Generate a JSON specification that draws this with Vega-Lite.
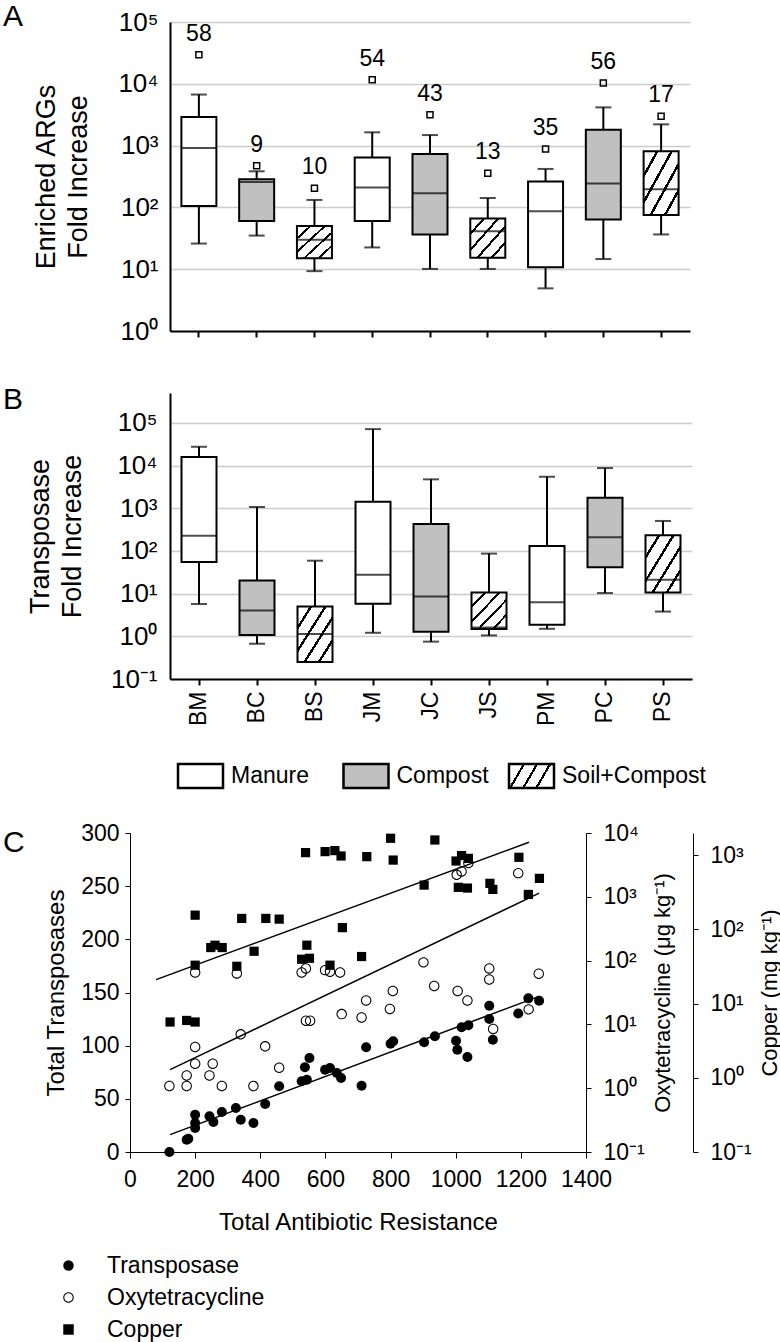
{
  "$schema": "https://vega.github.io/schema/vega-lite/v6.json",
  "padding": {"top": 2, "left": 3, "right": 0, "bottom": 0},
  "autosize": {"type": "pad"},
  "background": "white",
  "datasets": {
    "boxA": [
      {"cat": "BM", "type": "Manure", "lo": 26, "q1": 105, "med": 915, "q3": 2900, "hi": 6700, "out": 29500, "n": 58},
      {"cat": "BC", "type": "Compost", "lo": 35, "q1": 60, "med": 258, "q3": 286, "hi": 384, "out": 470, "n": 9},
      {"cat": "BS", "type": "Soil+Compost", "lo": 9.3, "q1": 15, "med": 30, "q3": 50, "hi": 132, "out": 204, "n": 10},
      {"cat": "JM", "type": "Manure", "lo": 22.5, "q1": 60, "med": 210, "q3": 640, "hi": 1640, "out": 11650, "n": 54},
      {"cat": "JC", "type": "Compost", "lo": 10.1, "q1": 36.5, "med": 170, "q3": 730, "hi": 1480, "out": 3165, "n": 43},
      {"cat": "JS", "type": "Soil+Compost", "lo": 10.1, "q1": 15.3, "med": 41, "q3": 66, "hi": 142, "out": 357, "n": 13},
      {"cat": "PM", "type": "Manure", "lo": 4.9, "q1": 10.8, "med": 87, "q3": 262, "hi": 419, "out": 881, "n": 35},
      {"cat": "PC", "type": "Compost", "lo": 14.6, "q1": 64, "med": 243, "q3": 1813, "hi": 4156, "out": 10260, "n": 56},
      {"cat": "PS", "type": "Soil+Compost", "lo": 36.5, "q1": 75, "med": 197, "q3": 809, "hi": 2208, "out": 2973, "n": 17}
    ],
    "boxB": [
      {"cat": "BM", "type": "Manure", "lo": 5.7, "q1": 55, "med": 228, "q3": 15800, "hi": 27500},
      {"cat": "BC", "type": "Compost", "lo": 0.67, "q1": 1.07, "med": 4.0, "q3": 20.2, "hi": 1070},
      {"cat": "BS", "type": "Soil+Compost", "lo": 0.25, "q1": 0.25, "med": 1.13, "q3": 5.0, "hi": 59},
      {"cat": "JM", "type": "Manure", "lo": 1.21, "q1": 5.8, "med": 27.5, "q3": 1420, "hi": 71300},
      {"cat": "JC", "type": "Compost", "lo": 0.75, "q1": 1.28, "med": 8.6, "q3": 428, "hi": 4750},
      {"cat": "JS", "type": "Soil+Compost", "lo": 1.05, "q1": 1.48, "med": 1.6, "q3": 10.6, "hi": 86.5},
      {"cat": "PM", "type": "Manure", "lo": 1.5, "q1": 1.86, "med": 6.3, "q3": 131, "hi": 5460},
      {"cat": "PC", "type": "Compost", "lo": 10.3, "q1": 41.6, "med": 209, "q3": 1766, "hi": 8730},
      {"cat": "PS", "type": "Soil+Compost", "lo": 3.8, "q1": 10.6, "med": 21, "q3": 233, "hi": 503}
    ],
    "types": [{"type": "Manure"}, {"type": "Compost"}, {"type": "Soil+Compost"}],
    "trans": [
      {"series": "Transposase", "x": 121, "y": 0}, {"series": "Transposase", "x": 174, "y": 11.6}, {"series": "Transposase", "x": 179, "y": 12.5},
      {"series": "Transposase", "x": 200, "y": 35}, {"series": "Transposase", "x": 200, "y": 27.3}, {"series": "Transposase", "x": 200, "y": 22.6},
      {"series": "Transposase", "x": 244, "y": 33.6}, {"series": "Transposase", "x": 256, "y": 28.2}, {"series": "Transposase", "x": 282, "y": 37.6},
      {"series": "Transposase", "x": 325, "y": 41.4}, {"series": "Transposase", "x": 340, "y": 30.4}, {"series": "Transposase", "x": 379, "y": 27.3},
      {"series": "Transposase", "x": 415, "y": 45.1}, {"series": "Transposase", "x": 458, "y": 61.8}, {"series": "Transposase", "x": 527, "y": 66.5},
      {"series": "Transposase", "x": 543, "y": 68}, {"series": "Transposase", "x": 537, "y": 79.7}, {"series": "Transposase", "x": 551, "y": 88.4},
      {"series": "Transposase", "x": 599, "y": 77.4}, {"series": "Transposase", "x": 614, "y": 79}, {"series": "Transposase", "x": 635, "y": 74.3},
      {"series": "Transposase", "x": 648, "y": 69.6}, {"series": "Transposase", "x": 711, "y": 62.3}, {"series": "Transposase", "x": 725, "y": 98.5},
      {"series": "Transposase", "x": 800, "y": 101.8}, {"series": "Transposase", "x": 808, "y": 104.1}, {"series": "Transposase", "x": 903, "y": 103.2},
      {"series": "Transposase", "x": 936, "y": 108.8}, {"series": "Transposase", "x": 1001, "y": 104.7}, {"series": "Transposase", "x": 1005, "y": 96.2},
      {"series": "Transposase", "x": 1036, "y": 89.3}, {"series": "Transposase", "x": 1018, "y": 117.3}, {"series": "Transposase", "x": 1039, "y": 119.2},
      {"series": "Transposase", "x": 1103, "y": 137.6}, {"series": "Transposase", "x": 1103, "y": 125.1}, {"series": "Transposase", "x": 1114, "y": 105.6},
      {"series": "Transposase", "x": 1192, "y": 130.2}, {"series": "Transposase", "x": 1223, "y": 144.5}, {"series": "Transposase", "x": 1256, "y": 142.3}
    ],
    "oxy": [
      {"series": "Oxytetracycline", "x": 121, "y": 1.08}, {"series": "Oxytetracycline", "x": 174, "y": 1.08}, {"series": "Oxytetracycline", "x": 174, "y": 1.58},
      {"series": "Oxytetracycline", "x": 200, "y": 2.42}, {"series": "Oxytetracycline", "x": 200, "y": 4.43}, {"series": "Oxytetracycline", "x": 254, "y": 2.42},
      {"series": "Oxytetracycline", "x": 244, "y": 1.58}, {"series": "Oxytetracycline", "x": 282, "y": 1.08}, {"series": "Oxytetracycline", "x": 340, "y": 6.98},
      {"series": "Oxytetracycline", "x": 379, "y": 1.08}, {"series": "Oxytetracycline", "x": 415, "y": 4.53}, {"series": "Oxytetracycline", "x": 458, "y": 2.09},
      {"series": "Oxytetracycline", "x": 540, "y": 11.4}, {"series": "Oxytetracycline", "x": 553, "y": 11.4}, {"series": "Oxytetracycline", "x": 650, "y": 14.5},
      {"series": "Oxytetracycline", "x": 711, "y": 12.8}, {"series": "Oxytetracycline", "x": 725, "y": 23.7}, {"series": "Oxytetracycline", "x": 798, "y": 17.4},
      {"series": "Oxytetracycline", "x": 807, "y": 33.4}, {"series": "Oxytetracycline", "x": 901, "y": 93.8}, {"series": "Oxytetracycline", "x": 934, "y": 40},
      {"series": "Oxytetracycline", "x": 1006, "y": 33.4}, {"series": "Oxytetracycline", "x": 1036, "y": 23.7}, {"series": "Oxytetracycline", "x": 1103, "y": 75.3},
      {"series": "Oxytetracycline", "x": 1103, "y": 50.6}, {"series": "Oxytetracycline", "x": 1115, "y": 8.5}, {"series": "Oxytetracycline", "x": 1224, "y": 17.2},
      {"series": "Oxytetracycline", "x": 1255, "y": 62.2}, {"series": "Oxytetracycline", "x": 200, "y": 65.2}, {"series": "Oxytetracycline", "x": 328, "y": 63},
      {"series": "Oxytetracycline", "x": 527, "y": 65.2}, {"series": "Oxytetracycline", "x": 540, "y": 75.3}, {"series": "Oxytetracycline", "x": 599, "y": 70.9},
      {"series": "Oxytetracycline", "x": 614, "y": 66.9}, {"series": "Oxytetracycline", "x": 645, "y": 65.2}, {"series": "Oxytetracycline", "x": 1003, "y": 2208},
      {"series": "Oxytetracycline", "x": 1018, "y": 2500}, {"series": "Oxytetracycline", "x": 1039, "y": 3373}, {"series": "Oxytetracycline", "x": 1192, "y": 2350}
    ],
    "copper": [
      {"series": "Copper", "x": 123, "y": 5.66}, {"series": "Copper", "x": 174, "y": 5.94}, {"series": "Copper", "x": 200, "y": 5.66},
      {"series": "Copper", "x": 200, "y": 33}, {"series": "Copper", "x": 200, "y": 156}, {"series": "Copper", "x": 248, "y": 57.1},
      {"series": "Copper", "x": 261, "y": 61.4}, {"series": "Copper", "x": 283, "y": 57.1}, {"series": "Copper", "x": 328, "y": 31.9},
      {"series": "Copper", "x": 343, "y": 141}, {"series": "Copper", "x": 381, "y": 50.9}, {"series": "Copper", "x": 417, "y": 141},
      {"series": "Copper", "x": 458, "y": 138}, {"series": "Copper", "x": 527, "y": 39.7}, {"series": "Copper", "x": 551, "y": 40.9},
      {"series": "Copper", "x": 543, "y": 61.4}, {"series": "Copper", "x": 539, "y": 1087}, {"series": "Copper", "x": 599, "y": 1122},
      {"series": "Copper", "x": 629, "y": 1158}, {"series": "Copper", "x": 648, "y": 980}, {"series": "Copper", "x": 652, "y": 106},
      {"series": "Copper", "x": 614, "y": 33}, {"series": "Copper", "x": 711, "y": 43.2}, {"series": "Copper", "x": 727, "y": 960},
      {"series": "Copper", "x": 800, "y": 1698}, {"series": "Copper", "x": 808, "y": 863}, {"series": "Copper", "x": 936, "y": 1610},
      {"series": "Copper", "x": 903, "y": 397}, {"series": "Copper", "x": 1001, "y": 838}, {"series": "Copper", "x": 1018, "y": 991},
      {"series": "Copper", "x": 1039, "y": 910}, {"series": "Copper", "x": 1008, "y": 370}, {"series": "Copper", "x": 1036, "y": 362},
      {"series": "Copper", "x": 1105, "y": 419}, {"series": "Copper", "x": 1114, "y": 347}, {"series": "Copper", "x": 1194, "y": 940},
      {"series": "Copper", "x": 1257, "y": 489}, {"series": "Copper", "x": 1223, "y": 297}
    ],
    "fitT": [{"x": 123, "y": 16.3}, {"x": 1256, "y": 146.4}],
    "fitO": [{"x": 123, "y": 1.95}, {"x": 1256, "y": 1140}],
    "fitC": [{"x": 80, "y": 21.1}, {"x": 1225, "y": 1500}]
  },
  "vconcat": [
    {
      "vconcat": [
        {
          "width": 520,
          "height": 309,
          "title": {"text": "A", "anchor": "start", "frame": "group", "dx": -167, "dy": 23, "fontSize": 30, "fontWeight": "normal", "offset": 0},
          "data": {"name": "boxA"},
          "encoding": {
            "x": {"field": "cat", "type": "nominal", "scale": {"domain": ["BM", "BC", "BS", "JM", "JC", "JS", "PM", "PC", "PS"], "paddingInner": 0, "paddingOuter": 0},
                  "axis": {"labels": false, "title": null, "tickSize": 6, "tickWidth": 2, "domainWidth": 2, "grid": false}}
          },
          "layer": [
            {"mark": {"type": "rule", "stroke": "black", "strokeWidth": 2},
             "encoding": {"y": {"field": "lo", "type": "quantitative", "scale": {"type": "log", "domain": [1, 100000], "nice": false},
                                "axis": {"title": ["Enriched ARGs", "Fold Increase"], "values": [1, 10, 100, 1000, 10000, 100000],
                                         "labelExpr": "datum.value < 0.5 ? '10⁻¹' : datum.value < 5 ? '10⁰' : datum.value < 50 ? '10¹' : datum.value < 500 ? '10²' : datum.value < 5000 ? '10³' : datum.value < 50000 ? '10⁴' : '10⁵'",
                                         "labelFontSize": 26, "titleFontSize": 27, "titleLineHeight": 32, "titlePadding": 25, "labelPadding": 12, "tickSize": 0, "tickWidth": 2, "domainWidth": 2,
                                         "grid": true, "gridColor": "#cccccc", "gridWidth": 1.5, "labelOverlap": false, "labelFlush": false}},
                          "y2": {"field": "hi"}}},
            {"transform": [{"filter": "datum.type === 'Manure'"}],
             "mark": {"type": "bar", "size": 35, "fill": "white", "stroke": "black", "strokeWidth": 2},
             "encoding": {"y": {"field": "q1", "type": "quantitative"}, "y2": {"field": "q3"}}},
            {"transform": [{"filter": "datum.type === 'Compost'"}],
             "mark": {"type": "bar", "size": 35, "fill": "#c0c0c0", "stroke": "black", "strokeWidth": 2},
             "encoding": {"y": {"field": "q1", "type": "quantitative"}, "y2": {"field": "q3"}}},
            {"transform": [{"filter": "datum.type === 'Soil+Compost'"}],
             "mark": {"type": "bar", "size": 35, "stroke": "black", "strokeWidth": 2,
                      "fill": {"gradient": "linear", "x1": 0, "y1": 0, "x2": 1, "y2": 1, "stops": [
                        {"offset": 0, "color": "white"}, {"offset": 0.175, "color": "white"}, {"offset": 0.175, "color": "black"}, {"offset": 0.215, "color": "black"}, {"offset": 0.215, "color": "white"},
                        {"offset": 0.38, "color": "white"}, {"offset": 0.38, "color": "black"}, {"offset": 0.42, "color": "black"}, {"offset": 0.42, "color": "white"},
                        {"offset": 0.58, "color": "white"}, {"offset": 0.58, "color": "black"}, {"offset": 0.62, "color": "black"}, {"offset": 0.62, "color": "white"},
                        {"offset": 0.785, "color": "white"}, {"offset": 0.785, "color": "black"}, {"offset": 0.825, "color": "black"}, {"offset": 0.825, "color": "white"},
                        {"offset": 1, "color": "white"}]}},
             "encoding": {"y": {"field": "q1", "type": "quantitative"}, "y2": {"field": "q3"}}},
            {"mark": {"type": "tick", "size": 35, "thickness": 2, "color": "black"},
             "encoding": {"y": {"field": "med", "type": "quantitative"}}},
            {"mark": {"type": "tick", "size": 16, "thickness": 2, "color": "black"},
             "encoding": {"y": {"field": "lo", "type": "quantitative"}}},
            {"mark": {"type": "tick", "size": 16, "thickness": 2, "color": "black"},
             "encoding": {"y": {"field": "hi", "type": "quantitative"}}},
            {"mark": {"type": "point", "shape": "square", "size": 36, "filled": false, "stroke": "black", "strokeWidth": 1.5, "opacity": 1},
             "encoding": {"y": {"field": "out", "type": "quantitative"}}},
            {"mark": {"type": "text", "fontSize": 23, "dy": -21, "color": "black", "baseline": "middle"},
             "encoding": {"y": {"field": "out", "type": "quantitative"}, "text": {"field": "n", "type": "quantitative"}}}
          ]
        },
        {
          "width": 522,
          "height": 286,
          "title": {"text": "B", "anchor": "start", "frame": "group", "dx": -167, "dy": 22, "fontSize": 30, "fontWeight": "normal", "offset": 0},
          "data": {"name": "boxB"},
          "encoding": {
            "x": {"field": "cat", "type": "nominal", "scale": {"domain": ["BM", "BC", "BS", "JM", "JC", "JS", "PM", "PC", "PS"], "paddingInner": 0, "paddingOuter": 0},
                  "axis": {"title": null, "labelAngle": -90, "labelFontSize": 23, "labelPadding": 6, "tickSize": 6, "tickWidth": 2, "domainWidth": 2, "grid": false}}
          },
          "layer": [
            {"mark": {"type": "rule", "stroke": "black", "strokeWidth": 2},
             "encoding": {"y": {"field": "lo", "type": "quantitative", "scale": {"type": "log", "domain": [0.1, 500000], "nice": false},
                                "axis": {"title": ["Transposase", "Fold Increase"], "values": [0.1, 1, 10, 100, 1000, 10000, 100000],
                                         "labelExpr": "datum.value < 0.5 ? '10⁻¹' : datum.value < 5 ? '10⁰' : datum.value < 50 ? '10¹' : datum.value < 500 ? '10²' : datum.value < 5000 ? '10³' : datum.value < 50000 ? '10⁴' : '10⁵'",
                                         "labelFontSize": 26, "titleFontSize": 27, "titleLineHeight": 32, "titlePadding": 24, "labelPadding": 13, "tickSize": 0, "tickWidth": 2, "domainWidth": 2,
                                         "grid": true, "gridColor": "#cccccc", "gridWidth": 1.5, "labelOverlap": false, "labelFlush": false}},
                          "y2": {"field": "hi"}}},
            {"transform": [{"filter": "datum.type === 'Manure'"}],
             "mark": {"type": "bar", "size": 35, "fill": "white", "stroke": "black", "strokeWidth": 2},
             "encoding": {"y": {"field": "q1", "type": "quantitative"}, "y2": {"field": "q3"}}},
            {"transform": [{"filter": "datum.type === 'Compost'"}],
             "mark": {"type": "bar", "size": 35, "fill": "#c0c0c0", "stroke": "black", "strokeWidth": 2},
             "encoding": {"y": {"field": "q1", "type": "quantitative"}, "y2": {"field": "q3"}}},
            {"transform": [{"filter": "datum.type === 'Soil+Compost'"}],
             "mark": {"type": "bar", "size": 35, "stroke": "black", "strokeWidth": 2,
                      "fill": {"gradient": "linear", "x1": 0, "y1": 0, "x2": 1, "y2": 1, "stops": [
                        {"offset": 0, "color": "white"}, {"offset": 0.175, "color": "white"}, {"offset": 0.175, "color": "black"}, {"offset": 0.215, "color": "black"}, {"offset": 0.215, "color": "white"},
                        {"offset": 0.38, "color": "white"}, {"offset": 0.38, "color": "black"}, {"offset": 0.42, "color": "black"}, {"offset": 0.42, "color": "white"},
                        {"offset": 0.58, "color": "white"}, {"offset": 0.58, "color": "black"}, {"offset": 0.62, "color": "black"}, {"offset": 0.62, "color": "white"},
                        {"offset": 0.785, "color": "white"}, {"offset": 0.785, "color": "black"}, {"offset": 0.825, "color": "black"}, {"offset": 0.825, "color": "white"},
                        {"offset": 1, "color": "white"}]}},
             "encoding": {"y": {"field": "q1", "type": "quantitative"}, "y2": {"field": "q3"}}},
            {"mark": {"type": "tick", "size": 35, "thickness": 2, "color": "black"},
             "encoding": {"y": {"field": "med", "type": "quantitative"}}},
            {"mark": {"type": "tick", "size": 16, "thickness": 2, "color": "black"},
             "encoding": {"y": {"field": "lo", "type": "quantitative"}}},
            {"mark": {"type": "tick", "size": 16, "thickness": 2, "color": "black"},
             "encoding": {"y": {"field": "hi", "type": "quantitative"}}}
          ]
        }
      ],
      "spacing": 41
    },
    {
      "vconcat": [
        {
          "width": 331,
          "height": 24,
          "data": {"name": "types"},
          "encoding": {
            "x": {"field": "type", "type": "nominal", "scale": {"type": "point", "domain": ["Manure", "Compost", "Soil+Compost"], "padding": 0}, "axis": null}
          },
          "layer": [
            {"transform": [{"filter": "datum.type === 'Manure'"}],
             "mark": {"type": "bar", "width": 45, "xOffset": 30.5, "fill": "white", "stroke": "black", "strokeWidth": 2.5}},
            {"transform": [{"filter": "datum.type === 'Compost'"}],
             "mark": {"type": "bar", "width": 45, "xOffset": 30.5, "fill": "#c0c0c0", "stroke": "black", "strokeWidth": 2.5}},
            {"transform": [{"filter": "datum.type === 'Soil+Compost'"}],
             "mark": {"type": "bar", "width": 45, "xOffset": 30.5, "stroke": "black", "strokeWidth": 2.5,
                      "fill": {"gradient": "linear", "x1": 0, "y1": 0, "x2": 1, "y2": 0.31, "stops": [
                        {"offset": 0, "color": "white"}, {"offset": 0.28, "color": "white"}, {"offset": 0.28, "color": "black"}, {"offset": 0.33, "color": "black"}, {"offset": 0.33, "color": "white"},
                        {"offset": 0.545, "color": "white"}, {"offset": 0.545, "color": "black"}, {"offset": 0.595, "color": "black"}, {"offset": 0.595, "color": "white"},
                        {"offset": 0.81, "color": "white"}, {"offset": 0.81, "color": "black"}, {"offset": 0.86, "color": "black"}, {"offset": 0.86, "color": "white"},
                        {"offset": 1, "color": "white"}]}}},
            {"mark": {"type": "text", "align": "left", "baseline": "middle", "dx": 61, "fontSize": 23, "color": "black"},
             "encoding": {"text": {"field": "type", "type": "nominal"}}}
          ]
        },
        {
          "width": 416,
          "height": 319,
          "title": {"text": "C", "anchor": "start", "frame": "group", "dx": -167, "dy": 36, "fontSize": 30, "fontWeight": "normal", "offset": 0},
          "encoding": {
            "x": {"field": "x", "type": "quantitative", "scale": {"domain": [0, 1400], "range": [-40, 416], "nice": false},
                  "axis": {"values": [0, 200, 400, 600, 800, 1000, 1200, 1400], "format": "d", "title": "Total Antibiotic Resistance", "titleFontSize": 24, "labelFontSize": 23,
                           "tickSize": 6, "tickWidth": 1, "domainWidth": 1, "labelPadding": 10, "titlePadding": 19, "grid": false, "labelFlush": false, "labelOverlap": false}}
          },
          "layer": [
            {
              "layer": [
                {"data": {"name": "fitT"}, "mark": {"type": "line", "color": "black", "strokeWidth": 1.5},
                 "encoding": {"y": {"field": "y", "type": "quantitative", "scale": {"domain": [0, 300], "nice": false},
                                    "axis": {"orient": "left", "offset": 40, "values": [0, 50, 100, 150, 200, 250, 300], "title": "Total Transposases", "titleFontSize": 24,
                                             "labelFontSize": 23, "tickSize": 5, "tickWidth": 1, "domainWidth": 1, "labelPadding": 6, "titlePadding": 12, "grid": false, "labelFlush": false}}}},
                {"data": {"name": "trans"}, "mark": {"type": "point", "filled": true, "size": 100, "color": "black", "opacity": 1},
                 "encoding": {
                   "y": {"field": "y", "type": "quantitative"},
                   "shape": {"field": "series", "type": "nominal",
                             "scale": {"domain": ["Transposase", "Oxytetracycline", "Copper"],
                                       "range": ["circle", "M1,0A1,1,0,1,1,-1,0A1,1,0,1,1,1,0ZM0.8,0A0.8,0.8,0,1,0,-0.8,0A0.8,0.8,0,1,0,0.8,0Z", "square"]},
                             "legend": {"orient": "none", "legendX": -113, "legendY": 421, "direction": "vertical", "title": null, "symbolSize": 110,
                                        "symbolFillColor": "black", "labelFontSize": 23, "labelOffset": 27, "rowPadding": 8, "labelColor": "black", "symbolOpacity": 1}}
                 }}
              ]
            },
            {
              "layer": [
                {"data": {"name": "fitO"}, "mark": {"type": "line", "color": "black", "strokeWidth": 1.5},
                 "encoding": {"y": {"field": "y", "type": "quantitative", "scale": {"type": "log", "domain": [0.1, 10000], "nice": false},
                                    "axis": {"orient": "right", "values": [0.1, 1, 10, 100, 1000, 10000],
                                             "labelExpr": "datum.value < 0.5 ? '10⁻¹' : datum.value < 5 ? '10⁰' : datum.value < 50 ? '10¹' : datum.value < 500 ? '10²' : datum.value < 5000 ? '10³' : datum.value < 50000 ? '10⁴' : '10⁵'",
                                             "title": "Oxytetracycline (μg kg⁻¹)", "titleAngle": 270, "titleBaseline": "top", "titleFontSize": 22, "labelFontSize": 23, "tickSize": 5, "tickWidth": 1, "domainWidth": 1,
                                             "labelPadding": 12, "titlePadding": 8, "grid": false, "labelFlush": false, "labelOverlap": false}}}},
                {"data": {"name": "oxy"}, "mark": {"type": "point", "filled": true, "size": 110, "color": "black", "opacity": 1},
                 "encoding": {"y": {"field": "y", "type": "quantitative"}, "shape": {"field": "series", "type": "nominal"}}}
              ]
            },
            {
              "layer": [
                {"data": {"name": "fitC"}, "mark": {"type": "line", "color": "black", "strokeWidth": 1.5},
                 "encoding": {"y": {"field": "y", "type": "quantitative", "scale": {"type": "log", "domain": [0.1, 2000], "nice": false},
                                    "axis": {"orient": "right", "offset": 107, "values": [0.1, 1, 10, 100, 1000],
                                             "labelExpr": "datum.value < 0.5 ? '10⁻¹' : datum.value < 5 ? '10⁰' : datum.value < 50 ? '10¹' : datum.value < 500 ? '10²' : datum.value < 5000 ? '10³' : datum.value < 50000 ? '10⁴' : '10⁵'",
                                             "title": "Copper (mg kg⁻¹)", "titleAngle": 270, "titleBaseline": "top", "titleFontSize": 22, "labelFontSize": 23, "tickSize": 5, "tickWidth": 1, "domainWidth": 1,
                                             "labelPadding": 12, "titlePadding": 8, "grid": false, "labelFlush": false, "labelOverlap": false}}}},
                {"data": {"name": "copper"}, "mark": {"type": "point", "filled": true, "size": 85, "color": "black", "opacity": 1},
                 "encoding": {"y": {"field": "y", "type": "quantitative"}, "shape": {"field": "series", "type": "nominal"}}}
              ]
            }
          ],
          "resolve": {"scale": {"y": "independent"}}
        }
      ],
      "spacing": 32,
      "resolve": {"scale": {"fill": "independent", "shape": "independent"}, "legend": {"fill": "independent", "shape": "independent"}}
    }
  ],
  "spacing": 36,
  "resolve": {"scale": {"fill": "independent", "shape": "independent"}, "legend": {"fill": "independent", "shape": "independent"}},
  "config": {
    "font": "Liberation Sans",
    "view": {"stroke": null},
    "axis": {"labelFont": "Liberation Sans", "titleFont": "Liberation Sans", "labelColor": "black", "titleColor": "black", "titleFontWeight": "normal", "domainColor": "black", "tickColor": "black"},
    "legend": {"labelFont": "Liberation Sans", "labelColor": "black"},
    "title": {"font": "Liberation Sans", "color": "black"}
  }
}
